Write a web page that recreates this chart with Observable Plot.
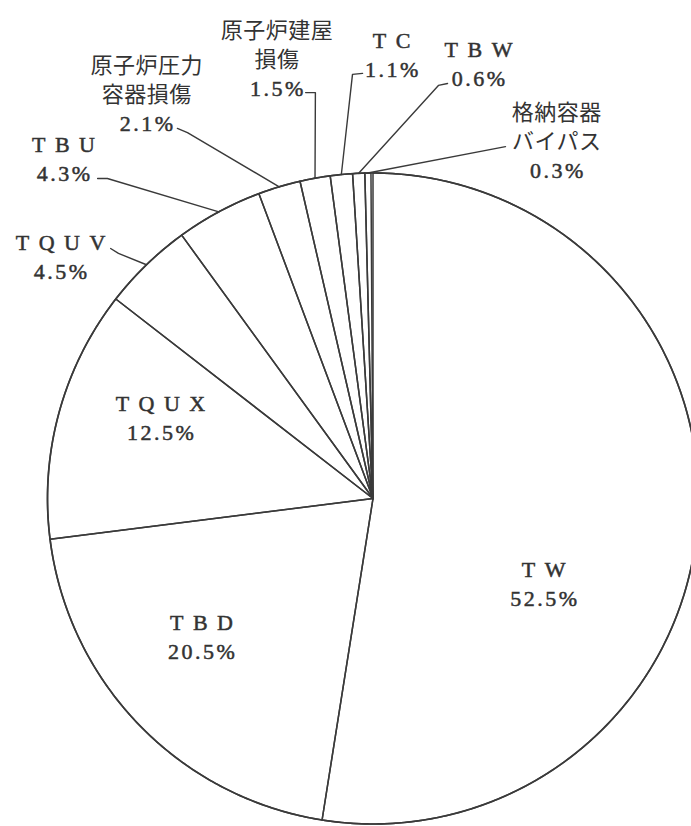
<!DOCTYPE html>
<html><head><meta charset="utf-8">
<script src="https://cdn.jsdelivr.net/npm/d3@7"></script>
<script src="https://cdn.jsdelivr.net/npm/@observablehq/plot@0.6"></script>
<style>
html,body{margin:0;padding:0;background:#fff;overflow:hidden;}
</style></head><body><div id="chart"></div>
<script>
// ---- data ----
const categories = ["TW","TBD","TQUX","TQUV","TBU","原子炉圧力容器損傷","原子炉建屋損傷","TC","TBW","格納容器バイパス"];
const values = [52.5,20.5,12.5,4.5,4.3,2.1,1.5,1.1,0.6,0.3];
const labelNames = ["TW","TBD","TQUX","TQUV","TBU","原子炉圧力\n容器損傷","原子炉建屋\n損傷","TC","TBW","格納容器\nバイパス"];
const labelValues = ["52.5%","20.5%","12.5%","4.5%","4.3%","2.1%","1.5%","1.1%","0.6%","0.3%"];
// ---- annotation layout (in pie-radius units) ----
const labelX = [0.524,-0.527,-0.653,-0.960,-0.951,-0.696,-0.296,0.057,0.324,0.564];
const labelY = [-0.257,-0.421,0.252,0.748,1.048,1.246,1.353,1.369,1.341,1.103];
const leaderStartX = [null,null,null,-0.806,-0.846,-0.601,-0.207,-0.032,0.229,0.407];
const leaderStartY = [null,null,null,0.768,0.983,1.137,1.247,1.306,1.275,1.081];
const leaderElbowX = [null,null,null,-0.782,-0.816,-0.570,-0.177,-0.063,0.201,0.407];
const leaderElbowY = [null,null,null,0.753,0.983,1.124,1.247,1.303,1.269,1.081];

// ---- geometry from data ----
const total = 100;
let acc = 0;
const slices = categories.map((c, i) => {
  const a0 = acc / total * 2 * Math.PI;
  acc += values[i];
  const a1 = acc / total * 2 * Math.PI;
  return {c, i, a0, a1, mid: (a0 + a1) / 2};
});
const slicePts = [];
for (const s of slices) {
  slicePts.push({c: s.c, x: 0, y: 0});
  const n = Math.max(2, Math.ceil((s.a1 - s.a0) / (Math.PI / 360)));
  for (let k = 0; k <= n; k++) {
    const a = s.a0 + (s.a1 - s.a0) * k / n;
    slicePts.push({c: s.c, x: Math.sin(a), y: Math.cos(a)});
  }
  slicePts.push({c: s.c, x: 0, y: 0});
}
const rim = d3.range(0, 721).map(k => ({x: Math.sin(k / 720 * 2 * Math.PI), y: Math.cos(k / 720 * 2 * Math.PI)}));
const leaderPts = [];
slices.forEach(s => {
  if (leaderStartX[s.i] == null) return;
  leaderPts.push({c: s.c, x: leaderStartX[s.i], y: leaderStartY[s.i]});
  leaderPts.push({c: s.c, x: leaderElbowX[s.i], y: leaderElbowY[s.i]});
  leaderPts.push({c: s.c, x: Math.sin(s.mid), y: Math.cos(s.mid)});
});
const labels = categories.map((c, i) => ({c, x: labelX[i], y: labelY[i], text: labelNames[i] + "\n" + labelValues[i]}));

const chart = Plot.plot({
  width: 691,
  height: 826,
  margin: 0,
  style: {background: "#fff"},
  x: {domain: [-1, 1], range: [47, 698], axis: null},
  y: {domain: [-1, 1], range: [823.5, 172.5], axis: null},
  marks: [
    Plot.line(slicePts, {x: "x", y: "y", z: "c", stroke: "#3a3a3a", strokeWidth: 1.5, strokeLinejoin: "round"}),
    Plot.line(rim, {x: "x", y: "y", stroke: "#3a3a3a", strokeWidth: 1.7}),
    Plot.line(leaderPts, {x: "x", y: "y", z: "c", stroke: "#3a3a3a", strokeWidth: 1.4, curve: "linear"}),
    Plot.text(labels, {x: "x", y: "y", text: "text", lineAnchor: "middle", lineHeight: 1.32,
      fontSize: 22, fill: "#333", fontFamily: "'Liberation Serif', 'Noto Sans CJK JP', serif"})
  ]
});
document.getElementById("chart").appendChild(chart);
d3.select(chart).selectAll("tspan").each(function() {
  const t = this.textContent;
  let s, thick = true;
  if (/^[A-Z]+$/.test(t)) s = 9.5;
  else if (/%/.test(t)) s = 2.5;
  else { s = 0.5; thick = false; }
  this.style.letterSpacing = s + "px";
  this.setAttribute("dx", s / 2);
  if (thick) { this.style.stroke = "#333"; this.style.strokeWidth = "0.5px"; }
});
</script></body></html>
